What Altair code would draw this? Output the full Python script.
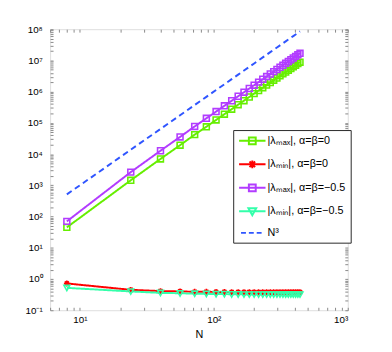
import altair as alt
import pandas as pd

# ---- data ----
N = [8, 24, 40, 56, 72, 88, 104, 120, 136, 152, 168, 184, 200, 216,
     232, 248, 264, 280, 296, 312, 328, 344, 360, 376, 392, 408, 424, 440]

lam_max_0 = [45, 1450, 7000, 19300, 42000, 75000, 124000, 190000, 275000, 383000,
             515000, 675000, 865000, 1085000, 1340000, 1630000, 1960000, 2330000,
             2740000, 3200000, 3710000, 4270000, 4880000, 5550000, 6270000, 7050000,
             7900000, 8800000]
lam_min_0 = [0.72, 0.45, 0.41, 0.40, 0.39, 0.39, 0.385, 0.385, 0.38, 0.38, 0.38, 0.38,
             0.38, 0.38, 0.38, 0.38, 0.38, 0.38, 0.38, 0.38, 0.38, 0.38, 0.38, 0.38,
             0.38, 0.38, 0.38, 0.38]
lam_max_05 = [70, 2650, 12800, 35500, 77000, 140000, 230000, 352000, 511000, 712000,
              960000, 1260000, 1610000, 2020000, 2500000, 3050000, 3670000, 4380000,
              5160000, 6040000, 7010000, 8090000, 9260000, 10550000, 11950000,
              13470000, 15120000, 16900000]
lam_min_05 = [0.52, 0.40, 0.36, 0.35, 0.34, 0.335, 0.33, 0.33, 0.325, 0.325, 0.32,
              0.32, 0.32, 0.32, 0.32, 0.32, 0.32, 0.32, 0.32, 0.32, 0.32, 0.32, 0.32,
              0.32, 0.32, 0.32, 0.32, 0.32]
n_cubed = [512, 13824, 64000, 175616, 373248, 681472, 1124864, 1728000, 2515456,
           3511808, 4741632, 6229504, 8000000, 10077696, 12487168, 15252992, 18399744,
           21952000, 25934336, 30371328, 35287552, 40707584, 46656000, 53157376,
           60236288, 67917312, 76225024, 85184000]

series_names = ["|λₘₐₓ|, α=β=0", "|λₘᵢₙ|, α=β=0", "|λₘₐₓ|, α=β=−0.5",
                "|λₘᵢₙ|, α=β=−0.5", "N³"]
colors = ["#66ee00", "#ff0000", "#b23cff", "#33ffaa", "#2f55ff"]

x_domain = [6, 1000]
y_domain = [0.1, 1e8]
x_label_values = [10, 100, 1000]
x_tick_labels = ["10¹", "10²", "10³"]
y_label_values = [0.1, 1, 10, 100, 1e3, 1e4, 1e5, 1e6, 1e7, 1e8]
y_tick_labels = ["10⁻¹", "10⁰", "10¹", "10²", "10³", "10⁴", "10⁵", "10⁶", "10⁷", "10⁸"]

x_minor = [6, 7, 8, 9] + [k * 10 for k in range(1, 10)] + [k * 100 for k in range(1, 11)]
y_minor = [k * 10.0 ** d for d in range(-1, 8) for k in range(1, 10)] + [1e8]

# ---- table ----
rows = []
for name, vals in zip(series_names, [lam_max_0, lam_min_0, lam_max_05, lam_min_05, n_cubed]):
    for n, v in zip(N, vals):
        rows.append({"N": n, "value": v, "series": name})
df = pd.DataFrame(rows)
marker_df = df[df["series"] != "N³"]

W, H = 304, 287
xs = alt.Scale(type="log", domain=x_domain, nice=False)
ys = alt.Scale(type="log", domain=y_domain, nice=False)
color_scale = alt.Scale(domain=series_names, range=colors)

x_expr = "{" + ",".join(f"'{v}':'{t}'" for v, t in zip(x_label_values, x_tick_labels)) + "}[''+datum.value]"
y_expr = "[" + ",".join(f"'{t}'" for t in y_tick_labels) + "][round(log(datum.value)/LN10)+1]"

marker_paths = [
    "M-1,-1H1V1H-1Z",
    "M-1,0H1M0,-1V1M-0.7,-0.7L0.7,0.7M-0.7,0.7L0.7,-0.7",
    "M-1,-1H1V1H-1Z",
    "M-1,-0.85H1L0,0.95Z",
]
legend_paths = [
    "M-1.0,0H4.4M1.0,-0.7H2.4V0.7H1.0Z",
    "M-1.0,0H4.4M1.7,-0.8V0.8M1.13,-0.57L2.27,0.57M1.13,0.57L2.27,-0.57",
    "M-1.0,0H4.4M1.0,-0.7H2.4V0.7H1.0Z",
    "M-1.0,0H4.4M0.9,-0.65H2.5L1.7,0.8Z",
    "M-0.6,0H0.4M1.0,0H2.0M2.6,0H3.6",
]

lines = alt.Chart(df).mark_line(strokeWidth=2).encode(
    x=alt.X("N:Q", scale=xs, axis=alt.Axis(orient="bottom", values=x_label_values,
            labelExpr=x_expr, ticks=False, domain=False, grid=False, title="N",
            labelPadding=5, titlePadding=4, titleFontWeight="normal")),
    y=alt.Y("value:Q", scale=ys, axis=alt.Axis(orient="left", values=y_label_values,
            labelExpr=y_expr, ticks=False, domain=False, grid=False, title=None,
            labelPadding=8)),
    color=alt.Color("series:N", scale=color_scale, legend=None),
    strokeDash=alt.StrokeDash("series:N", scale=alt.Scale(domain=series_names,
                              range=[[1, 0]] * 4 + [[6, 4]]), legend=None),
)

points = alt.Chart(marker_df).mark_point(filled=False, strokeWidth=1.6, size=36, opacity=1).encode(
    x=alt.X("N:Q", scale=xs, axis=alt.Axis(orient="top", offset=-H, values=x_minor,
            labels=False, tickSize=3, tickWidth=1, domain=False, grid=False, title=None)),
    y=alt.Y("value:Q", scale=ys, axis=alt.Axis(orient="right", offset=-W, values=y_minor,
            labels=False, tickSize=3, tickWidth=1, domain=False, grid=False, title=None)),
    color=alt.Color("series:N", scale=color_scale, legend=None),
    shape=alt.Shape("series:N", scale=alt.Scale(domain=series_names[:4], range=marker_paths),
                    legend=None),
)

leg = dict(title=None, orient="none", legendX=187, legendY=103, symbolSize=100,
           symbolStrokeWidth=2, symbolOpacity=1, labelOffset=18,
           strokeColor="#262626", fillColor="white", padding=5, rowPadding=8,
           labelFont="Liberation Sans", labelFontSize=11, labelColor="#000000")

legend_layer = alt.Chart(df).mark_point(filled=False, size=0, opacity=0).encode(
    x=alt.X("N:Q", scale=xs, axis=alt.Axis(orient="bottom", offset=-H, values=x_minor,
            labels=False, tickSize=3, tickWidth=1, domain=False, grid=False, title=None)),
    y=alt.Y("value:Q", scale=ys, axis=alt.Axis(orient="left", offset=-W, values=y_minor,
            labels=False, tickSize=3, tickWidth=1, domain=False, grid=False, title=None)),
    color=alt.Color("series:N", scale=color_scale, legend=alt.Legend(**leg)),
    shape=alt.Shape("series:N", scale=alt.Scale(domain=series_names, range=legend_paths),
                    legend=alt.Legend(**leg)),
)

chart = alt.layer(lines, points, legend_layer).resolve_scale(
    color="independent", shape="independent", strokeDash="independent"
).resolve_axis(x="independent", y="independent").properties(
    width=W, height=H,
    autosize=alt.AutoSizeParams(type="none"),
    padding={"left": 43, "top": 18, "right": 37, "bottom": 39},
).configure_view(stroke="#262626", strokeWidth=1).configure_axis(
    labelFont="Liberation Sans", labelFontSize=12, labelColor="#000000",
    tickColor="#262626", titleFont="Liberation Sans", titleFontSize=13,
    titleFontWeight="normal", titleColor="#000000",
).configure(background="white")

chart.save("out.html", embed_options={"renderer": "svg", "actions": False})
